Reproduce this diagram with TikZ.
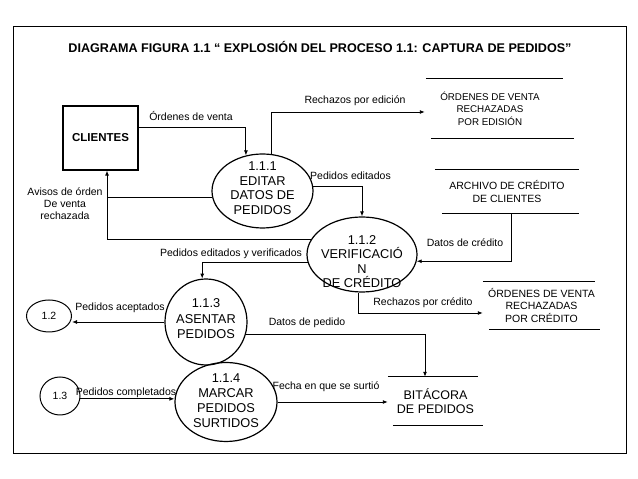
\documentclass[tikz,border=0pt]{standalone}
\usepackage{fontspec}
\setmainfont{Liberation Sans}
\usepackage{tikz}
\usetikzlibrary{positioning,calc,arrows.meta,shapes.geometric}
\tikzset{
  marco/.style    = {draw=black, line width=0.8pt},
  titulo/.style   = {font=\fontsize{12.6}{14}\selectfont\bfseries, inner sep=0pt},
  entidad/.style  = {draw=black, line width=1.2pt, minimum width=75pt, minimum height=64pt, font=\fontsize{11.5}{13}\selectfont\bfseries},
  proc/.style     = {ellipse, draw=black, line width=1.2pt, inner sep=0pt},
  proctxt/.style  = {align=center, font=\fontsize{12.8}{14.5}\selectfont, inner sep=0pt},
  externo/.style  = {ellipse, draw=black, line width=1pt, inner sep=0pt, font=\fontsize{10.5}{12}\selectfont},
  almacen/.style  = {align=center, inner sep=0pt, font=\fontsize{10.5}{12.5}\selectfont},
  linea/.style    = {draw=black, line width=1pt},
  flujo/.style    = {-{Latex[length=5pt,width=4pt]}, draw=black, line width=0.9pt},
  union/.style    = {draw=black, line width=0.9pt},
  lbl/.style      = {font=\fontsize{10.5}{12}\selectfont, inner sep=0pt, align=center},
}

\begin{document}
\begin{tikzpicture}[x=1pt,y=1pt]
  \useasboundingbox (0,0) rectangle (638,479);
  \draw[marco] (13,26) rectangle (626,453);
  \node[titulo] (titulo) at (320,432) {DIAGRAMA FIGURA 1.1 “ EXPLOSIÓN DEL PROCESO 1.1: CAPTURA DE PEDIDOS”};

  % ---------- entidad externa y procesos ----------
  \node[entidad] (clientes) at (100.5,341) {CLIENTES};
  \coordinate (baja) at ([xshift=6.5pt]clientes.south);

  \node[proc, minimum width=101pt, minimum height=74pt] (p111) at (262.5,288) {};
  \node[proctxt] (t111) at ([yshift=3pt]p111.center) {1.1.1\\EDITAR\\DATOS DE\\PEDIDOS};

  \node[proc, minimum width=110pt, minimum height=75pt] (p112) at (362,224.5) {};
  \node[proctxt] (t112) at ([yshift=-7pt]p112.center) {1.1.2\\VERIFICACIÓ\\N\\DE CRÉDITO};

  \node[proc, minimum width=82pt, minimum height=86pt] (p113) at (206,157) {};
  \node[proctxt, font=\fontsize{12.8}{15.5}\selectfont] (t113) at ([yshift=3pt]p113.center) {1.1.3\\ASENTAR\\PEDIDOS};

  \node[proc, minimum width=102pt, minimum height=79pt] (p114) at (226,77) {};
  \node[proctxt, font=\fontsize{12.8}{15}\selectfont] (t114) at ([yshift=1.5pt]p114.center) {1.1.4\\MARCAR\\PEDIDOS\\SURTIDOS};

  \node[externo, minimum width=45pt, minimum height=32pt] (c12) at (49,163) {1.2};
  \node[externo, minimum width=40pt, minimum height=38pt] (c13) at (60,83) {1.3};

  % ---------- almacenes ----------
  \node[almacen, font=\fontsize{9.8}{12.5}\selectfont, minimum width=130pt, minimum height=59pt] (s1) at (490,370.5) {ÓRDENES DE VENTA\\RECHAZADAS\\POR EDISIÓN};
  \draw[linea] ([xshift=1pt]s1.north west) -- ++(137,0);
  \draw[linea] ([xshift=6pt]s1.south west) -- ++(143,0);

  \node[almacen, minimum width=144pt, minimum height=43pt] (s2) at (507,287.5) {ARCHIVO DE CRÉDITO\\DE CLIENTES};
  \draw[linea] (s2.north west) -- ++(144,0);
  \draw[linea] ([xshift=7pt]s2.south west) -- ++(137,0);

  \node[almacen, minimum width=117pt, minimum height=47pt] (s3) at (541.5,173.5) {ÓRDENES DE VENTA\\RECHAZADAS\\POR CRÉDITO};
  \draw[linea] (s3.north west) -- ++(112,0);
  \draw[linea] ([xshift=6pt]s3.south west) -- ++(111,0);

  \node[almacen, font=\fontsize{12.5}{14}\selectfont, minimum width=95pt, minimum height=48pt] (s4) at (435.5,78) {BITÁCORA\\DE PEDIDOS};
  \draw[linea] (s4.north west) -- ++(90,0);
  \draw[linea] ([xshift=5pt]s4.south west) -- ++(90,0);

  % ---------- flujos ----------
  \draw[flujo] ([yshift=11pt]clientes.east) -| (p111.115);
  \draw[flujo] (p111.77) |- ([yshift=-3.5pt]s1.west);
  \draw[flujo] (p111.5) -| (p112.north);
  \draw[flujo] ([xshift=4pt]s2.south) |- (p112.-7);
  \draw[flujo] (p112.163) -| (baja);
  \draw[union] (p111.187) -- (p111.187 -| baja);
  \draw[flujo] (p112.188) -| (p113.95);
  \draw[flujo] (p112.-95) |- ([yshift=-7.5pt]s3.west);
  \draw[flujo] (p113.west) -- (p113.west -| c12.east);
  \draw[flujo] (p113.-17) -| ([xshift=-10.5pt]s4.north);
  \draw[flujo] (c13.-8) -- (c13.-8 -| p114.west);
  \draw[flujo] (p114.east) -- (p114.east -| s4.west);

  % ---------- etiquetas ----------
  \node[lbl] (l1) at (191,363) {Órdenes de venta};
  \node[lbl] (l2) at (355,378) {Rechazos por edición};
  \node[lbl] (l3) at (350.5,303) {Pedidos editados};
  \node[lbl] (l4) at (465,236) {Datos de crédito};
  \node[lbl, font=\fontsize{10.5}{12}\selectfont] (l5) at (65,275) {Avisos de órden\\De venta\\rechazada};
  \node[lbl] (l6) at (231,225) {Pedidos editados y verificados};
  \node[lbl] (l7) at (120,171) {Pedidos aceptados};
  \node[lbl] (l8) at (423,176) {Rechazos por crédito};
  \node[lbl] (l9) at (307,156) {Datos de pedido};
  \node[lbl] (l10) at (126,86) {Pedidos completados};
  \node[lbl] (l11) at (326,92) {Fecha en que se surtió};
\end{tikzpicture}
\end{document}
